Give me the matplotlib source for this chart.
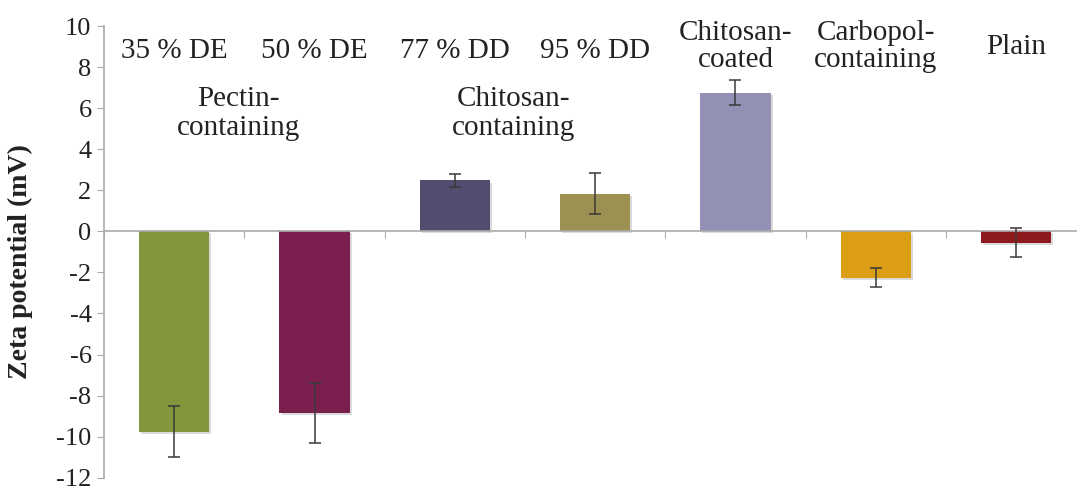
import matplotlib.pyplot as plt
import matplotlib.patheffects as pe

plt.rcParams['font.family'] = ['Liberation Serif', 'DejaVu Serif']
plt.rcParams['axes.unicode_minus'] = False

# 数据
groups = ['35 % DE', '50 % DE', '77 % DD', '95 % DD',
          'Chitosan-\ncoated', 'Carbopol-\ncontaining', 'Plain']
zeta = [-9.75, -8.85, 2.48, 1.84, 6.75, -2.25, -0.55]
err = [1.22, 1.45, 0.3, 0.99, 0.6, 0.48, 0.7]
colors = ['#84963c', '#7b1f4f', '#524d6e', '#9c9152',
          '#9390b5', '#db9e14', '#8f1a1e']
group_labels = ['Pectin-\ncontaining', 'Chitosan-\ncontaining']
group_pos = [0.46, 2.42]

fig = plt.figure(figsize=(10.77, 4.91), dpi=100)
ax = fig.add_axes([0.0966, 0.027, 0.912, 0.920])

x = range(len(zeta))
bars = ax.bar(x, zeta, width=0.5, color=colors, zorder=2)
for b in bars:
    b.set_path_effects([pe.SimplePatchShadow(offset=(1.5, -1.5),
                                             shadow_rgbFace='#999999', alpha=0.35),
                        pe.Normal()])
ax.errorbar(x, zeta, yerr=err, fmt='none', ecolor='#3a3a3a', elinewidth=1.3,
            capsize=4.5, capthick=1.3, alpha=0.85, zorder=3)

# 坐标轴
ax.set_xlim(-0.5, 6.5)
ax.set_ylim(-12, 10)
ax.set_yticks(range(-12, 11, 2))
ax.tick_params(axis='y', labelsize=19, length=5, color='#aaaaaa', pad=4,
               labelcolor='#222222')
ax.set_xticks([i - 0.5 for i in range(8)])
ax.set_xticklabels([])
ax.tick_params(axis='x', length=5, color='#aaaaaa', direction='out')
for s in ['top', 'right']:
    ax.spines[s].set_visible(False)
ax.spines['bottom'].set_position(('data', 0))
ax.spines['left'].set_color('#aaaaaa')
ax.spines['bottom'].set_color('#aaaaaa')
ax.spines['left'].set_linewidth(1.2)
ax.spines['bottom'].set_linewidth(1.2)

ax.set_ylabel('Zeta potential (mV)', fontsize=20, fontweight='bold', color='#222222')
ax.yaxis.set_label_coords(-0.072, 0.479)

# 标注文字
for i, g in enumerate(groups):
    y = 9.0 if '\n' in g or g == 'Plain' else 8.77
    ax.text(i, y, g, ha='center', va='center', fontsize=21,
            linespacing=1.08, color='#222222')
for p, g in zip(group_pos, group_labels):
    ax.text(p, 5.74, g, ha='center', va='center', fontsize=21,
            linespacing=1.15, color='#222222')

plt.savefig('out.png', dpi=100)
